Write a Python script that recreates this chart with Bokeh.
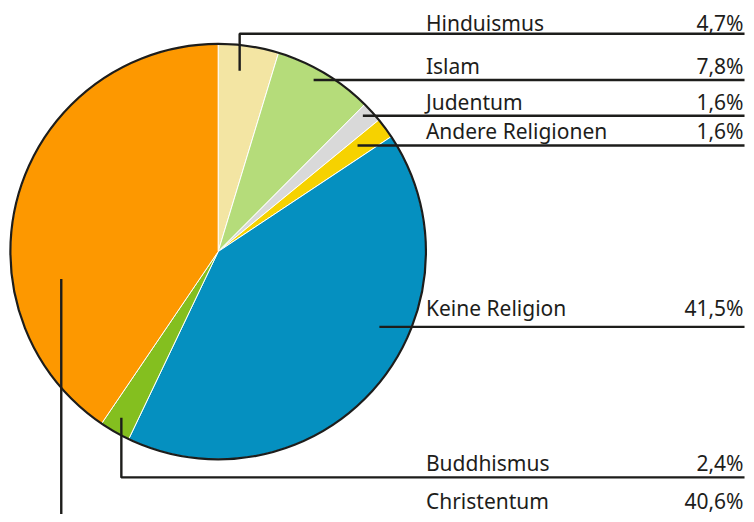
import math
from bokeh.plotting import figure
from bokeh.models import Range1d, ColumnDataSource
from bokeh.core.properties import value
from bokeh.embed import file_html
from bokeh.resources import INLINE

# ---- data ----
categories = ["Hinduismus", "Islam", "Judentum", "Andere Religionen",
              "Keine Religion", "Buddhismus", "Christentum"]
shares = [4.7, 7.8, 1.6, 1.6, 41.5, 2.4, 40.6]
colors = ["#f3e5a3", "#b5dc7a", "#d9d9d9", "#f6d200",
          "#0590c0", "#84bf1f", "#fd9800"]

# ---- layout (reference pixel space) ----
CX, CY, R = 220, 255, 210
row_line_y = [33.7, 80.7, 117, 147.3, 331.5, 484.3, 530]
row_text_y = [30, 74, 110.5, 140.5, 320, 477, 515.5]
TEXT_SHIFT = 7.5   # svg baseline compensation
anchor_angle_shift = [1.7, 1.9, 1.1, 0.8, 16.5, -0.3, 27]
anchor_radius = [185, 199, 201, 177, 179, 195, 161]
elbow = [True, False, False, False, False, True, True]
LABEL_X, PCT_X, LINE_END = 430, 751, 752

p = figure(width=746, height=514, output_backend="svg", toolbar_location=None,
           x_range=Range1d(0, 754), y_range=Range1d(-522, 0),
           min_border=0, outline_line_color=None)
p.axis.visible = False
p.grid.visible = False
p.background_fill_color = "white"
p.border_fill_color = "white"

total = sum(shares)
starts, ends, mids = [], [], []
cum = 0.0
for s in shares:
    a0 = 90 - cum / total * 360
    cum += s
    a1 = 90 - cum / total * 360
    starts.append(math.radians(a0))
    ends.append(math.radians(a1))
    mids.append((a0 + a1) / 2)

src = ColumnDataSource(dict(x=[CX] * len(shares), y=[-CY] * len(shares),
                            start=starts, end=ends, color=colors))
p.wedge(x="x", y="y", radius=R, start_angle="start", end_angle="end",
        direction="clock", fill_color="color", line_color="white",
        line_width=1, source=src)
p.circle(x=[CX], y=[-CY], radius=R, fill_color=None, line_color="#1d1d1b",
         line_width=2.2)

# leader lines
xs, ys = [], []
for i in range(len(shares)):
    a = math.radians(mids[i] + anchor_angle_shift[i])
    ax = CX + anchor_radius[i] * math.cos(a)
    ay = CY - anchor_radius[i] * math.sin(a)
    ly = row_line_y[i]
    if elbow[i]:
        xs.append([ax, ax, LINE_END])
        ys.append([-ay, -ly, -ly])
    else:
        xs.append([ax, LINE_END])
        ys.append([-ly, -ly])
p.multi_line(xs=xs, ys=ys, line_color="#1d1d1b", line_width=2.4)

# labels
pct = [("%.1f" % s).replace(".", ",") + "%" for s in shares]
ty = [-(t - TEXT_SHIFT) for t in row_text_y]
p.text(x=[LABEL_X] * len(categories), y=ty, text=categories,
       text_font=value("Noto Sans"), text_font_size="21px", text_color="#1d1d1b",
       text_align="left", text_baseline="alphabetic")
p.text(x=[PCT_X] * len(categories), y=ty, text=pct,
       text_font=value("Noto Sans"), text_font_size="21px", text_color="#1d1d1b",
       text_align="right", text_baseline="alphabetic")

open("out.html", "w").write(file_html(p, INLINE))
